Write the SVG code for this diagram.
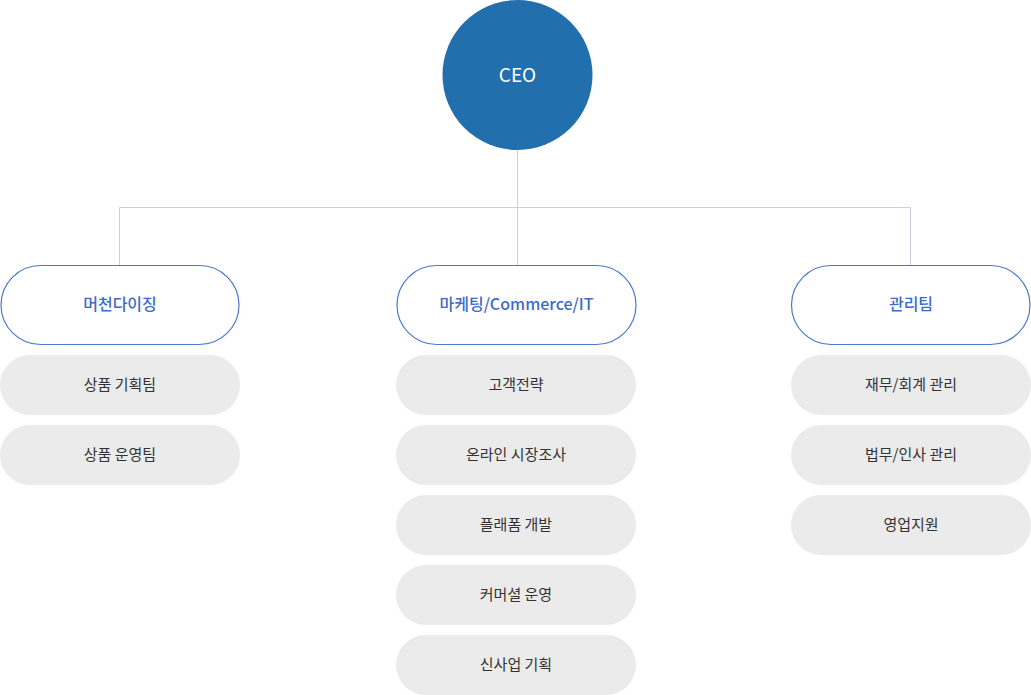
<svg xmlns="http://www.w3.org/2000/svg" width="1031" height="695" viewBox="0 0 1031 695">
<style>
text{font-family:"Noto Sans CJK KR","Noto Sans",sans-serif;text-anchor:middle;dominant-baseline:central}
.hd rect{fill:#fff;stroke:#4a78cf;stroke-width:1.2}
.hd text{fill:#3c6cc6;font-size:16px;font-weight:500}
.it rect{fill:#ebebeb}
.it text{fill:#333;font-size:15px}
.conn{stroke:#c8d0e4;stroke-width:1;fill:none}
</style>
<rect width="1031" height="695" fill="#fff"/>
<g id="connectors">
<path class="conn" d="M517.5 150V207.5M119.5 207.5H910.5M119.5 207.5V265M517.5 207.5V265M910.5 207.5V265"/>
</g>
<g id="ceo"><circle cx="517.5" cy="75" r="75" fill="#226fae"/><text x="517.5" y="73.5" fill="#fff" font-size="19">CEO</text></g>
<g id="h1" class="hd"><rect x="1" y="265.5" width="238" height="79" rx="39.5"/><text x="120" y="303">머천다이징</text></g>
<g id="h2" class="hd"><rect x="397" y="265.5" width="239" height="79" rx="39.5"/><text x="516.5" y="303">마케팅/Commerce/IT</text></g>
<g id="h3" class="hd"><rect x="791.5" y="265.5" width="238.5" height="79" rx="39.5"/><text x="911" y="303">관리팀</text></g>
<g id="i1" class="it"><rect x="0" y="355" width="240" height="60" rx="30"/><text x="120" y="383">상품 기획팀</text></g>
<g id="i2" class="it"><rect x="0" y="425" width="240" height="60" rx="30"/><text x="120" y="453">상품 운영팀</text></g>
<g id="i3" class="it"><rect x="396" y="355" width="240" height="60" rx="30"/><text x="516" y="383">고객전략</text></g>
<g id="i4" class="it"><rect x="396" y="425" width="240" height="60" rx="30"/><text x="516" y="453">온라인 시장조사</text></g>
<g id="i5" class="it"><rect x="396" y="495" width="240" height="60" rx="30"/><text x="516" y="523">플래폼 개발</text></g>
<g id="i6" class="it"><rect x="396" y="565" width="240" height="60" rx="30"/><text x="516" y="593">커머셜 운영</text></g>
<g id="i7" class="it"><rect x="396" y="635" width="240" height="60" rx="30"/><text x="516" y="663">신사업 기획</text></g>
<g id="i8" class="it"><rect x="791" y="355" width="240" height="60" rx="30"/><text x="911" y="383">재무/회계 관리</text></g>
<g id="i9" class="it"><rect x="791" y="425" width="240" height="60" rx="30"/><text x="911" y="453">법무/인사 관리</text></g>
<g id="i10" class="it"><rect x="791" y="495" width="240" height="60" rx="30"/><text x="911" y="523">영업지원</text></g>
</svg>
